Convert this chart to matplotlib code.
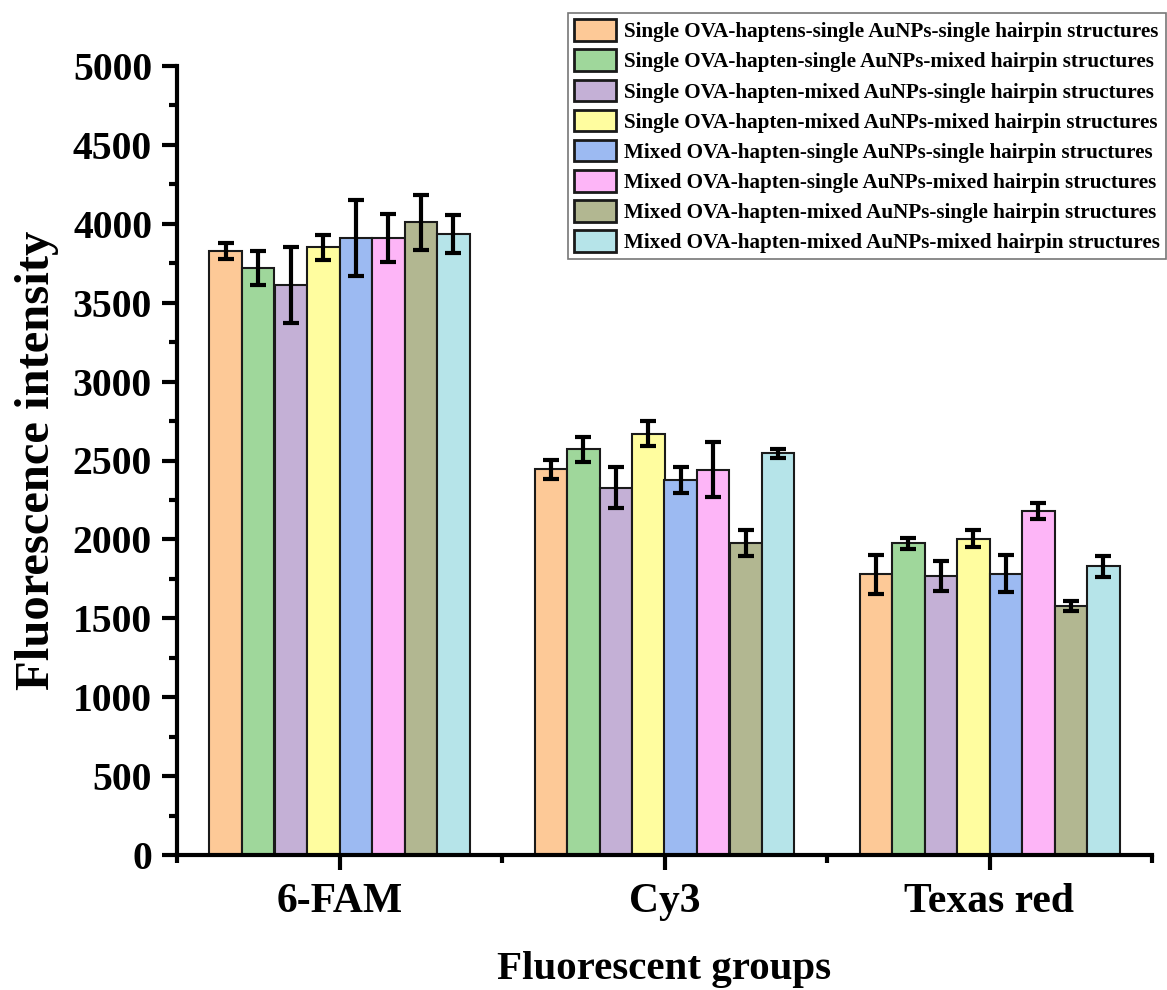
import matplotlib
matplotlib.use("Agg")
import matplotlib.pyplot as plt
import numpy as np
from matplotlib.ticker import MultipleLocator, FixedLocator

plt.rcParams['font.family'] = ['Liberation Serif', 'DejaVu Serif']
plt.rcParams['font.weight'] = 'bold'

groups = ["6-FAM", "Cy3", "Texas red"]
series = [
    "Single OVA-haptens-single AuNPs-single hairpin structures",
    "Single OVA-hapten-single AuNPs-mixed hairpin structures",
    "Single OVA-hapten-mixed AuNPs-single hairpin structures",
    "Single OVA-hapten-mixed AuNPs-mixed hairpin structures",
    "Mixed OVA-hapten-single AuNPs-single hairpin structures",
    "Mixed OVA-hapten-single AuNPs-mixed hairpin structures",
    "Mixed OVA-hapten-mixed AuNPs-single hairpin structures",
    "Mixed OVA-hapten-mixed AuNPs-mixed hairpin structures",
]
colors = ["#FDC997", "#9FD79B", "#C4B0D6", "#FFFD9F",
          "#9CBAF2", "#FDB5F7", "#B2B791", "#B6E4E9"]

# values[series][group]
values = [
    [3828, 2444, 1779],
    [3718, 2571, 1975],
    [3612, 2328, 1768],
    [3851, 2670, 2004],
    [3908, 2374, 1781],
    [3910, 2442, 2180],
    [4009, 1975, 1578],
    [3935, 2546, 1829],
]
errors = [
    [51, 59, 124],
    [108, 81, 37],
    [243, 129, 96],
    [79, 78, 54],
    [241, 82, 117],
    [151, 175, 48],
    [174, 82, 33],
    [118, 29, 67],
]

fig = plt.figure(figsize=(11.67, 9.9), dpi=100)
ax = fig.add_axes([177/1167, 1-855/990, (1152-177)/1167, (855-66)/990])

x = np.arange(1, len(groups) + 1)
w = 0.1
n = len(series)
handles = []
for i in range(n):
    pos = x + (i - (n - 1) / 2) * w
    b = ax.bar(pos, values[i], width=w, color=colors[i], edgecolor='#1a1a1a',
               linewidth=1.5, label=series[i], zorder=2)
    ax.errorbar(pos, values[i], yerr=errors[i], fmt='none', ecolor='black',
                elinewidth=3, capsize=6, capthick=3, zorder=3)
    handles.append(b)

ax.set_xlim(0.5, 3.5)
ax.set_ylim(0, 5000)
ax.set_xticks(x)
ax.set_xticklabels(groups)
ax.xaxis.set_minor_locator(FixedLocator([0.5, 1.5, 2.5, 3.5]))
ax.yaxis.set_major_locator(MultipleLocator(500))
ax.yaxis.set_minor_locator(MultipleLocator(250))

for s in ['top', 'right']:
    ax.spines[s].set_visible(False)
for s in ['left', 'bottom']:
    ax.spines[s].set_linewidth(3)

ax.tick_params(axis='both', which='major', width=3, length=11, direction='out')
ax.tick_params(axis='both', which='minor', width=3, length=5.5, direction='out')
ax.tick_params(axis='x', which='major', labelsize=30, pad=9)
ax.tick_params(axis='y', which='major', labelsize=28.5, pad=7)
for lab in ax.get_xticklabels() + ax.get_yticklabels():
    lab.set_fontweight('bold')

ax.set_ylabel("Fluorescence intensity", fontsize=35, fontweight='bold', labelpad=10)
ax.set_xlabel("Fluorescent groups", fontsize=29.5, fontweight='bold', labelpad=22)

leg = fig.legend(handles=handles, labels=series, loc='upper right',
                 bbox_to_anchor=(1166/1167, 1-13/990),
                 prop={'weight': 'bold', 'size': 15.2},
                 frameon=True, fancybox=False, edgecolor='#555555',
                 handlelength=2.0, handleheight=1.2, handletextpad=0.35,
                 labelspacing=0.34, borderpad=0.3, borderaxespad=0)
leg.get_frame().set_linewidth(1.2)
for h in leg.legend_handles:
    h.set_linewidth(2)

fig.savefig("out.png", dpi=100)
